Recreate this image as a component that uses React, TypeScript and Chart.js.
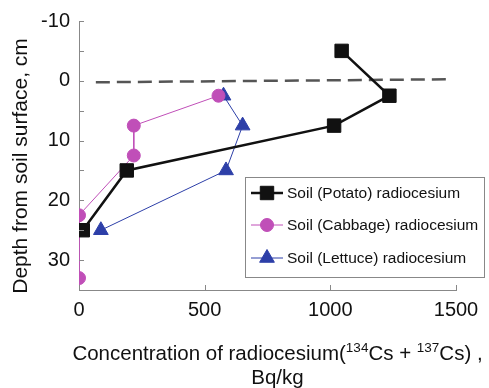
import React, { useEffect, useRef } from 'react';
import { Chart, registerables } from 'chart.js';
import { drawPoint } from 'chart.js/helpers';

Chart.register(...registerables);

// ---- data ----
const potatoX = [1045, 1235, 1015, 190, 15];
const potatoY = [-5, 2.5, 7.5, 15, 25];
const cabbageX = [555, 218, 218, 0, 0];
const cabbageY = [2.5, 7.5, 12.5, 22.5, 33];
const lettuceX = [575, 651, 585, 87];
const lettuceY = [2.5, 7.5, 15, 25];
const surfaceX = [67, 1480];
const surfaceY = [0.25, -0.25];

const seriesLabels = [
  'Soil (Potato) radiocesium',
  'Soil (Cabbage) radiocesium',
  'Soil (Lettuce) radiocesium',
];
const xTickValues = [0, 500, 1000, 1500];
const yTickValues = [-10, -5, 0, 5, 10, 15, 20, 25, 30];
const yTitle = 'Depth from soil surface, cm';
const xTitleRuns = [
  { t: 'Concentration of radiocesium(', sup: false },
  { t: '134', sup: true },
  { t: 'Cs + ', sup: false },
  { t: '137', sup: true },
  { t: 'Cs) ,', sup: false },
];
const xTitleLine2 = 'Bq/kg';

const FONT = '"Liberation Sans", Arial, Helvetica, sans-serif';

export default function App() {
  const ref = useRef<HTMLCanvasElement>(null);

  useEffect(() => {
    document.body.style.margin = '0';
    const canvas = ref.current;
    if (!canvas) return;

    const styles = [
      { color: '#111111', width: 2.5, pointStyle: 'rect', radius: 9.5 },
      { color: '#C04FB8', width: 1, pointStyle: 'circle', radius: 6.5 },
      { color: '#2D3FA8', width: 1, pointStyle: 'triangle', radius: 8.5 },
    ];
    const xs = [potatoX, cabbageX, lettuceX];
    const ys = [potatoY, cabbageY, lettuceY];

    const datasets: any[] = styles.map((s, i) => ({
      label: seriesLabels[i],
      data: xs[i].map((x, j) => ({ x, y: ys[i][j] })),
      borderColor: s.color,
      backgroundColor: s.color,
      borderWidth: s.width,
      pointStyle: s.pointStyle,
      pointRadius: s.radius,
      pointBorderWidth: 1,
      pointBorderColor: s.color,
      pointBackgroundColor: s.color,
      showLine: true,
      order: i,
    }));
    datasets.push({
      label: 'surface',
      data: surfaceX.map((x, j) => ({ x, y: surfaceY[j] })),
      borderColor: '#555555',
      borderWidth: 2.5,
      borderDash: [14, 7],
      pointRadius: 0,
      showLine: true,
      order: 10,
    });

    const deco = {
      id: 'deco',
      afterDraw(chart: any) {
        const ctx = chart.ctx as CanvasRenderingContext2D;
        const xs = chart.scales.x;
        const ysc = chart.scales.y;
        const area = chart.chartArea;
        ctx.save();
        // inward tick marks
        ctx.strokeStyle = '#888888';
        ctx.lineWidth = 1;
        for (const v of yTickValues) {
          const py = Math.round(ysc.getPixelForValue(v)) + 0.5;
          ctx.beginPath();
          ctx.moveTo(area.left, py);
          ctx.lineTo(area.left + 5, py);
          ctx.stroke();
        }
        for (const v of xTickValues) {
          const px = Math.round(xs.getPixelForValue(v)) + 0.5;
          ctx.beginPath();
          ctx.moveTo(px, area.bottom);
          ctx.lineTo(px, area.bottom - 5);
          ctx.stroke();
        }

        // legend box
        const lx = 245, ly = 177, lw = 239, lh = 100;
        ctx.fillStyle = '#ffffff';
        ctx.fillRect(lx, ly, lw, lh);
        ctx.strokeStyle = '#888888';
        ctx.lineWidth = 1;
        ctx.strokeRect(lx + 0.5, ly + 0.5, lw, lh);
        const rowY = [193, 225, 258];
        styles.forEach((s, i) => {
          const cy = rowY[i];
          ctx.strokeStyle = s.color;
          ctx.lineWidth = s.width;
          ctx.setLineDash([]);
          ctx.beginPath();
          ctx.moveTo(251, cy);
          ctx.lineTo(283, cy);
          ctx.stroke();
          ctx.fillStyle = s.color;
          ctx.lineWidth = 1;
          drawPoint(ctx, { pointStyle: s.pointStyle as any, radius: s.radius, rotation: 0, borderWidth: 1 } as any, 267, cy);
          ctx.fillStyle = '#111111';
          ctx.font = `15.5px ${FONT}`;
          ctx.textAlign = 'left';
          ctx.textBaseline = 'middle';
          ctx.fillText(seriesLabels[i], 287, cy + 1);
        });

        // y title
        ctx.fillStyle = '#111111';
        ctx.save();
        ctx.translate(21, 166);
        ctx.rotate(-Math.PI / 2);
        ctx.font = `21px ${FONT}`;
        ctx.textAlign = 'center';
        ctx.textBaseline = 'middle';
        ctx.fillText(yTitle, 0, 0);
        ctx.restore();

        // x title line 1 with superscripts
        const big = `20.5px ${FONT}`;
        const small = `13.5px ${FONT}`;
        let total = 0;
        const widths = xTitleRuns.map((r) => {
          ctx.font = r.sup ? small : big;
          const w = ctx.measureText(r.t).width;
          total += w;
          return w;
        });
        let cx = 277.5 - total / 2;
        const baseY = 360;
        ctx.textAlign = 'left';
        ctx.textBaseline = 'alphabetic';
        xTitleRuns.forEach((r, i) => {
          ctx.font = r.sup ? small : big;
          ctx.fillText(r.t, cx, r.sup ? baseY - 8 : baseY);
          cx += widths[i];
        });
        ctx.font = big;
        ctx.textAlign = 'center';
        ctx.fillText(xTitleLine2, 277.5, 384);
        ctx.restore();
      },
    };

    const chart = new Chart(canvas, {
      type: 'scatter',
      data: { datasets },
      options: {
        responsive: false,
        animation: false,
        devicePixelRatio: 1,
        layout: { padding: { top: 14, right: 33, left: 0, bottom: 0 } },
        plugins: { legend: { display: false }, tooltip: { enabled: false } },
        scales: {
          x: {
            type: 'linear',
            min: 0,
            max: 1500,
            afterFit: (s: any) => { s.height = 98; },
            ticks: {
              stepSize: 500,
              padding: 8,
              color: '#111111',
              font: { size: 20, family: FONT },
              callback: (v: any) => String(v),
            },
            grid: { display: true, drawOnChartArea: false, drawTicks: false },
            border: { color: '#888888', width: 1 },
          },
          y: {
            type: 'linear',
            min: -10,
            max: 35,
            reverse: true,
            afterFit: (s: any) => { s.width = 79; },
            ticks: {
              stepSize: 5,
              padding: 9,
              color: '#111111',
              font: { size: 20, family: FONT },
              callback: (v: any) => (Number(v) % 10 === 0 ? String(v) : ''),
            },
            grid: { display: true, drawOnChartArea: false, drawTicks: false },
            border: { color: '#888888', width: 1 },
          },
        },
      },
      plugins: [deco],
    });

    return () => chart.destroy();
  }, []);

  return (
    <div style={{ position: 'absolute', left: 0, top: 0, width: 489, height: 388 }}>
      <canvas ref={ref} width={489} height={388} style={{ display: 'block' }} />
    </div>
  );
}
